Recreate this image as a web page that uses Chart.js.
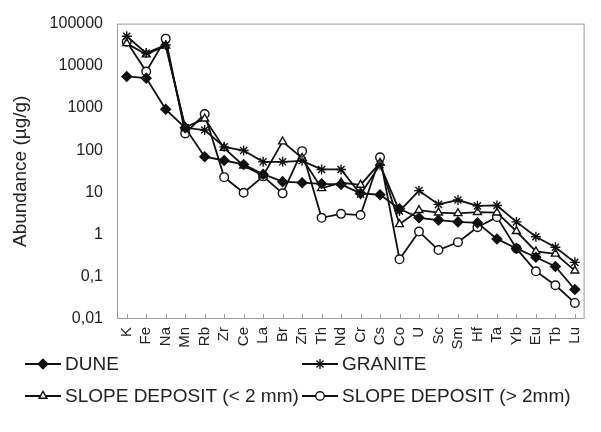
<!DOCTYPE html>
<html><head><meta charset="utf-8">
<script src="https://cdn.jsdelivr.net/npm/chart.js@4"></script>
<style>html,body{margin:0;padding:0;background:#fff;}</style>
</head><body>
<canvas id="c" width="601" height="432"></canvas>
<script>
const elements = ['K','Fe','Na','Mn','Rb','Zr','Ce','La','Br','Zn','Th','Nd','Cr','Cs','Co','U','Sc','Sm','Hf','Ta','Yb','Eu','Tb','Lu'];
const yTicks = [0.01, 0.1, 1, 10, 100, 1000, 10000, 100000];
const dune        = [5600, 5100, 930, 340, 70, 57, 46, 27, 18, 17, 16, 15.5, 9.5, 8.8, 4.1, 2.5, 2.2, 2.0, 1.9, 0.79, 0.47, 0.29, 0.176, 0.05];
const granite     = [50000, 20000, 31000, 340, 300, 120, 98, 53, 53, 56, 35, 35, 9, 45, 3.6, 11, 5.2, 6.6, 4.8, 4.9, 2.0, 0.89, 0.5, 0.22];
const slopeFine   = [34000, 18500, 30000, 350, 560, 112, 43, 25, 160, 65, 12.5, 17, 15, 50, 1.75, 3.8, 3.3, 3.2, 3.4, 3.3, 1.2, 0.40, 0.35, 0.14];
const slopeCoarse = [37000, 7300, 44000, 250, 720, 23, 9.8, 24, 9.5, 95, 2.5, 3.1, 2.9, 68, 0.26, 1.18, 0.43, 0.66, 1.5, 2.6, 0.47, 0.135, 0.063, 0.024];
const seriesNames = ['DUNE', 'GRANITE', 'SLOPE DEPOSIT (< 2 mm)', 'SLOPE DEPOSIT (> 2mm)'];

const FONT = "'Liberation Sans', Arial, sans-serif";
const INK = '#111';

function ds(label, data, style, radius, fill) {
  return {
    label, data,
    borderColor: INK, borderWidth: 1.8,
    pointStyle: style, pointRadius: radius, pointHoverRadius: radius,
    pointBackgroundColor: fill, pointBorderColor: INK, pointBorderWidth: 1.4,
    tension: 0, fill: false
  };
}

const legendPlugin = {
  id: 'customLegend',
  beforeDatasetsDraw(chart) {
    const {ctx, chartArea: a} = chart;
    ctx.save();
    ctx.strokeStyle = '#9a9a9a';
    ctx.lineWidth = 1;
    ctx.strokeRect(a.left + 0.5, a.top + 0.5, a.right - a.left - 1, a.bottom - a.top - 1);
    const xs = chart.scales.x;
    ctx.beginPath();
    for (let i = 0; i < elements.length; i++) {
      const px = Math.round(xs.getPixelForValue(i)) + 0.5;
      ctx.moveTo(px, a.bottom - 1);
      ctx.lineTo(px, a.bottom - 5);
    }
    ctx.stroke();
    ctx.restore();
  },
  afterDraw(chart) {
    const ctx = chart.ctx;
    const pos = [[25, 364], [302, 364], [25, 396], [302, 396]];
    ctx.save();
    chart.data.datasets.forEach((d, i) => {
      const [x, y] = pos[i];
      ctx.strokeStyle = INK;
      ctx.lineWidth = 1.8;
      ctx.beginPath();
      ctx.moveTo(x, y); ctx.lineTo(x + 36, y);
      ctx.stroke();
      ctx.fillStyle = d.pointBackgroundColor;
      ctx.strokeStyle = INK;
      ctx.lineWidth = d.pointBorderWidth;
      Chart.helpers.drawPoint(ctx, {pointStyle: d.pointStyle, radius: d.pointRadius, rotation: 0, borderWidth: d.pointBorderWidth}, x + 18, y);
      ctx.fillStyle = '#222';
      ctx.font = '19px ' + FONT;
      ctx.textBaseline = 'middle';
      ctx.textAlign = 'left';
      ctx.fillText(d.label, x + 40, y + 1);
    });
    ctx.restore();
  }
};

new Chart(document.getElementById('c'), {
  type: 'line',
  data: {
    labels: elements,
    datasets: [
      ds(seriesNames[0], dune, 'rectRot', 4.8, INK),
      ds(seriesNames[1], granite, 'star', 5, INK),
      ds(seriesNames[2], slopeFine, 'triangle', 4.6, '#fff'),
      ds(seriesNames[3], slopeCoarse, 'circle', 4.3, '#fff')
    ]
  },
  options: {
    responsive: false,
    animation: false,
    devicePixelRatio: 1,
    layout: {padding: {top: 21, right: 1, left: 0, bottom: 0}},
    plugins: {legend: {display: false}, tooltip: {enabled: false}},
    scales: {
      x: {
        type: 'category',
        offset: true,
        grid: {display: false, drawTicks: false},
        border: {display: false},
        ticks: {minRotation: 90, maxRotation: 90, autoSkip: false, padding: 8, color: '#222', font: {family: FONT, size: 15}},
        afterFit(s) { s.height = 113; }
      },
      y: {
        type: 'logarithmic',
        min: 0.01, max: 100000,
        grid: {display: false, drawTicks: false},
        border: {display: false},
        afterBuildTicks(s) { s.ticks = yTicks.map(v => ({value: v})); },
        ticks: {
          padding: 14, color: '#222', font: {family: FONT, size: 16},
          callback: (v) => String(v).replace('.', ',')
        },
        title: {display: true, text: 'Abundance (µg/g)', color: '#222', font: {family: FONT, size: 19}, padding: {top: 9, bottom: 0}},
        afterFit(s) { s.width = 117; }
      }
    }
  },
  plugins: [legendPlugin]
});
</script>
</body></html>
